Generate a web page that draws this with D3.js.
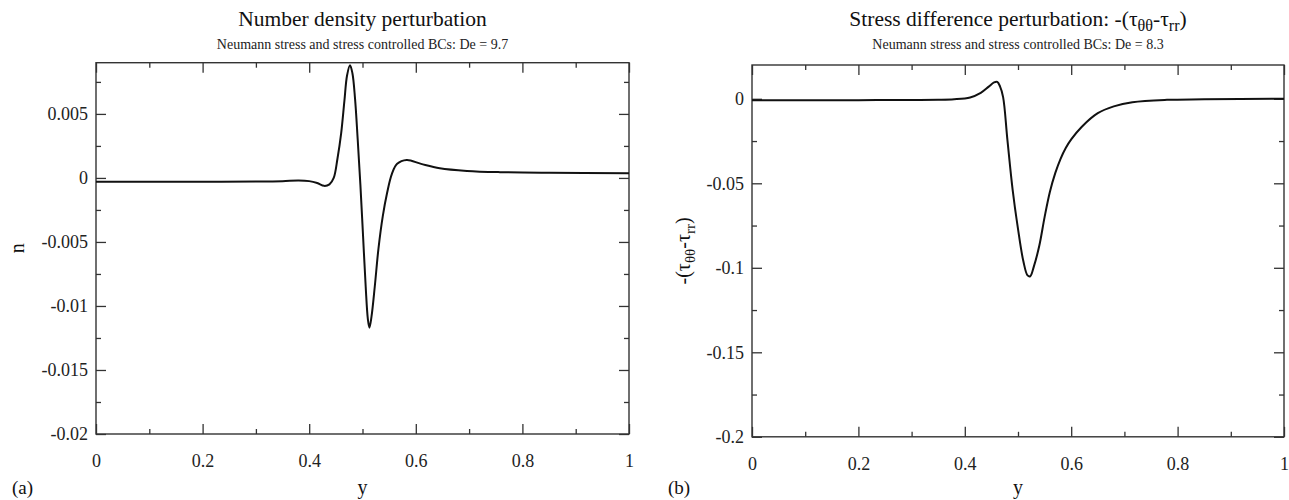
<!DOCTYPE html>
<html>
<head>
<meta charset="utf-8">
<script src="https://cdn.jsdelivr.net/npm/d3@7"></script>
<style>
  body { margin: 0; background: #fff; }
  svg { display: block; font-family: "Liberation Serif", "DejaVu Serif", serif; }
</style>
</head>
<body>
<svg id="chart" width="1289" height="500"></svg>
<script>
// panel (a): number density perturbation, De = 9.7
var densityY = [0, 0.1, 0.2, 0.3, 0.35, 0.38, 0.40, 0.415, 0.428, 0.438, 0.446, 0.453, 0.46, 0.466, 0.471,
    0.4765, 0.481, 0.486, 0.491, 0.496, 0.501, 0.506, 0.510, 0.513, 0.517, 0.523, 0.530, 0.538, 0.546, 0.555,
    0.565, 0.583, 0.61, 0.645, 0.696, 0.758, 0.85, 1.0];
var densityN = [-0.0003, -0.0003, -0.0003, -0.00028, -0.00025, -0.0002, -0.00025, -0.0004, -0.00062, -0.0005,
    0.0000, 0.0015, 0.0035, 0.006, 0.008, 0.0088, 0.0082, 0.0062, 0.0030, -0.0005, -0.0045, -0.0085, -0.0110,
    -0.0117, -0.0108, -0.0085, -0.0055, -0.0030, -0.0012, 0.0003, 0.0011, 0.0014, 0.0011, 0.00076, 0.00055,
    0.00045, 0.0004, 0.00037];

// panel (b): stress difference perturbation, De = 8.3
var stressY = [0, 0.1, 0.2, 0.3, 0.35, 0.38, 0.41, 0.43, 0.445, 0.455, 0.461, 0.466, 0.472, 0.48, 0.49, 0.50,
    0.51, 0.518, 0.523, 0.53, 0.54, 0.55, 0.56, 0.57, 0.58, 0.59, 0.60, 0.62, 0.65, 0.68, 0.715, 0.78, 0.85, 1.0];
var stressT = [-0.0008, -0.0008, -0.0008, -0.0007, -0.0006, -0.0003, 0.0008, 0.0035, 0.0072, 0.0097, 0.0100,
    0.0075, 0.0010, -0.0240, -0.0540, -0.0770, -0.0960, -0.1045, -0.1050, -0.0990, -0.0870, -0.0700, -0.0550,
    -0.0440, -0.0355, -0.0290, -0.0240, -0.0165, -0.0085, -0.0045, -0.0020, -0.0006, -0.0003, 0.0001];

var xMajor = [0, 0.2, 0.4, 0.6, 0.8, 1];
var xMinor = [0.1, 0.3, 0.5, 0.7, 0.9];
var densityMajor = [-0.02, -0.015, -0.01, -0.005, 0, 0.005];
var densityMinor = [-0.0175, -0.0125, -0.0075, -0.0025, 0.0025, 0.0075];
var stressMajor = [-0.2, -0.15, -0.1, -0.05, 0];
var stressMinor = [-0.175, -0.125, -0.075, -0.025];

var svg = d3.select("#chart");
var serif = "'Liberation Serif', 'DejaVu Serif', serif";

function fmt(v) {
    if (Math.abs(v) < 1e-12) return "0";
    return String(+v.toFixed(4));
}

function panel(opt) {
    var g = svg.append("g");
    var x = d3.scaleLinear().domain([0, 1]).range([opt.left, opt.right]);
    var y = d3.scaleLinear().domain(opt.domain).range([opt.bottom, opt.top]);

    // major and minor ticks on all four sides, pointing inward
    function ticks(axis, vals, size, transform, labels) {
        var a = axis.tickValues(vals).tickSize(-size);
        if (labels) a.tickPadding(labels).tickFormat(fmt); else a.tickFormat("");
        var ag = g.append("g").attr("transform", transform).call(a);
        ag.attr("font-family", serif).attr("font-size", 18);
        ag.select(".domain").remove();
        ag.selectAll("line").attr("stroke", "#333").attr("stroke-width", 1.3);
        ag.selectAll("text").attr("fill", "#222");
        return ag;
    }
    ticks(d3.axisBottom(x), xMajor, 10, "translate(0," + opt.bottom + ")", 20);
    ticks(d3.axisBottom(x), xMinor, 5, "translate(0," + opt.bottom + ")");
    ticks(d3.axisTop(x), xMajor, 10, "translate(0," + opt.top + ")");
    ticks(d3.axisTop(x), xMinor, 5, "translate(0," + opt.top + ")");
    ticks(d3.axisLeft(y), opt.major, 10, "translate(" + opt.left + ",0)", 8);
    ticks(d3.axisLeft(y), opt.minor, 5, "translate(" + opt.left + ",0)");
    ticks(d3.axisRight(y), opt.major, 10, "translate(" + opt.right + ",0)");
    ticks(d3.axisRight(y), opt.minor, 5, "translate(" + opt.right + ",0)");

    g.append("rect")
        .attr("x", opt.left).attr("y", opt.top)
        .attr("width", opt.right - opt.left).attr("height", opt.bottom - opt.top)
        .attr("fill", "none").attr("stroke", "#333").attr("stroke-width", 1.4);

    var line = d3.line()
        .x(function (d) { return x(d[0]); })
        .y(function (d) { return y(d[1]); })
        .curve(d3.curveCatmullRom.alpha(0.5));
    g.append("path")
        .datum(d3.zip(opt.xs, opt.ys))
        .attr("d", line)
        .attr("fill", "none")
        .attr("stroke", "#111")
        .attr("stroke-width", 2);

    var cx = (opt.left + opt.right) / 2;
    var title = g.append("text")
        .attr("x", cx).attr("y", 26)
        .attr("text-anchor", "middle")
        .style("font-size", "21.5px").style("fill", "#111");
    opt.title(title);
    g.append("text")
        .attr("x", cx).attr("y", 49)
        .attr("text-anchor", "middle")
        .style("font-size", "14px").style("fill", "#222")
        .text(opt.subtitle);

    g.append("text")
        .attr("x", cx).attr("y", 494)
        .attr("text-anchor", "middle")
        .style("font-size", "20px").style("fill", "#111")
        .text("y");
    g.append("text")
        .attr("x", opt.tag).attr("y", 494)
        .style("font-size", "19px").style("fill", "#111")
        .text(opt.letter);

    var yl = g.append("text")
        .attr("transform", "translate(" + opt.ylabelX + "," + (opt.top + opt.bottom) / 2 + ") rotate(-90)")
        .attr("text-anchor", "middle")
        .style("font-size", "20px").style("fill", "#111");
    opt.ylabel(yl);
}

function tauText(sel) {
    sel.append("tspan").text("-(τ");
    sel.append("tspan").attr("baseline-shift", "-30%").style("font-size", "75%").text("θθ");
    sel.append("tspan").text("-τ");
    sel.append("tspan").attr("baseline-shift", "-30%").style("font-size", "75%").text("rr");
    sel.append("tspan").text(")");
}

panel({
    left: 96, right: 629, top: 62.7, bottom: 434,
    domain: [-0.02, 0.009],
    major: densityMajor, minor: densityMinor,
    xs: densityY, ys: densityN,
    title: function (t) { t.text("Number density perturbation"); },
    subtitle: "Neumann stress and stress controlled BCs: De = 9.7",
    letter: "(a)", tag: 12,
    ylabelX: 24,
    ylabel: function (t) { t.text("n"); }
});

panel({
    left: 752, right: 1284, top: 65, bottom: 436.8,
    domain: [-0.2, 0.02],
    major: stressMajor, minor: stressMinor,
    xs: stressY, ys: stressT,
    title: function (t) {
        t.append("tspan").text("Stress difference perturbation: ");
        tauText(t);
    },
    subtitle: "Neumann stress and stress controlled BCs: De = 8.3",
    letter: "(b)", tag: 668,
    ylabelX: 690,
    ylabel: tauText
});
</script>
</body>
</html>
